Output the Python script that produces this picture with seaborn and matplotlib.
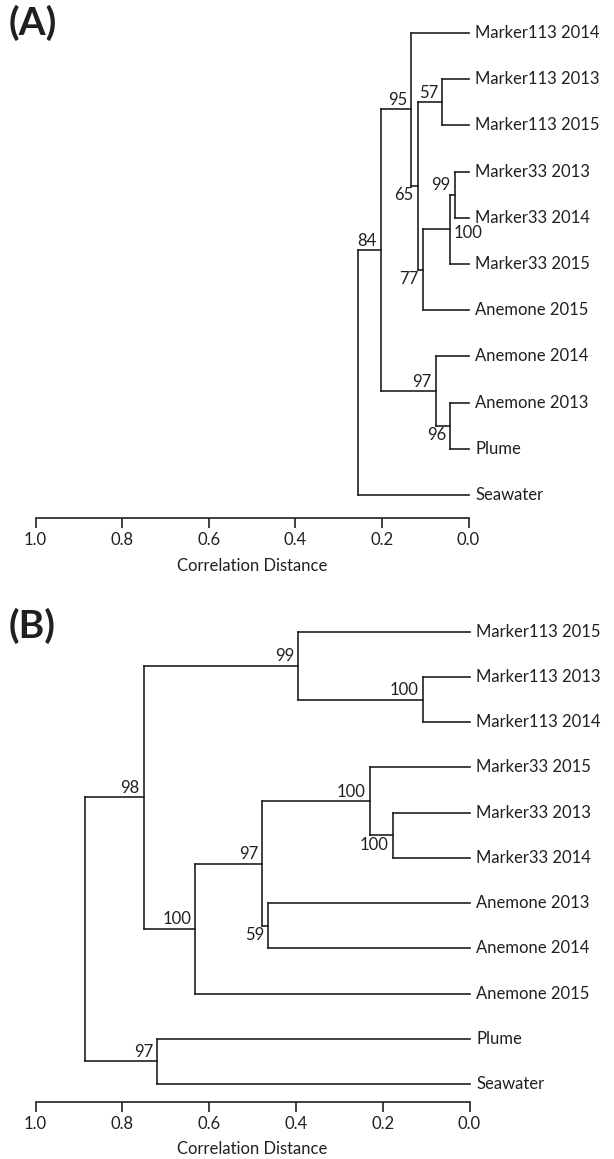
import numpy as np
import pandas as pd
import matplotlib
matplotlib.use("Agg")
import matplotlib.pyplot as plt
from matplotlib.ticker import FormatStrFormatter
import seaborn as sns

# ---- panel A: leaves top to bottom, internal nodes as merges (n0, n1, ...)
a_leaves = ["Marker113 2014", "Marker113 2013", "Marker113 2015",
            "Marker33 2013", "Marker33 2014", "Marker33 2015",
            "Anemone 2015", "Anemone 2014", "Anemone 2013", "Plume", "Seawater"]
a_left = ["Marker113 2013", "Marker33 2013", "n1", "n2", "n0",
          "Marker113 2014", "Anemone 2013", "Anemone 2014", "n5", "n8"]
a_right = ["Marker113 2015", "Marker33 2014", "Marker33 2015", "Anemone 2015", "n3",
           "n4", "Plume", "n6", "n7", "Seawater"]
a_height = [0.061, 0.032, 0.042, 0.105, 0.117, 0.132, 0.042, 0.075, 0.202, 0.256]
a_support = [57, 99, 100, 77, 65, 95, 96, 97, 84, None]
a_label_pos = ["above", "above", "right", "below", "below", "above", "below", "above", "above", None]

# ---- panel B
b_leaves = ["Marker113 2015", "Marker113 2013", "Marker113 2014",
            "Marker33 2015", "Marker33 2013", "Marker33 2014",
            "Anemone 2013", "Anemone 2014", "Anemone 2015", "Plume", "Seawater"]
b_left = ["Marker113 2013", "Marker113 2015", "Marker33 2013", "Marker33 2015",
          "Anemone 2013", "n3", "n5", "n1", "Plume", "n7"]
b_right = ["Marker113 2014", "n0", "Marker33 2014", "n2",
           "Anemone 2014", "n4", "Anemone 2015", "n6", "Seawater", "n8"]
b_height = [0.107, 0.395, 0.176, 0.230, 0.464, 0.477, 0.632, 0.751, 0.719, 0.886]
b_support = [100, 99, 100, 100, 59, 97, 100, 98, 97, None]
b_label_pos = ["above", "above", "below", "above", "below", "above", "above", "above", "above", None]

ticks = [0.0, 0.2, 0.4, 0.6, 0.8, 1.0]
INK = "#231f20"
LW = 1.2
FS = 12

sns.set_style("white")
plt.rcParams["font.family"] = ["Lato", "DejaVu Sans"]
plt.rcParams["text.color"] = INK
plt.rcParams["xtick.color"] = INK
plt.rcParams["axes.labelcolor"] = INK


def layout(leaves, left, right, height):
    pos = {name: (0.0, float(i)) for i, name in enumerate(leaves)}
    segs = []
    for k, (l, r, h) in enumerate(zip(left, right, height)):
        for child in (l, r):
            cx, cy = pos[child]
            segs.append(((cx, cy), (h, cy)))
        y0, y1 = pos[l][1], pos[r][1]
        segs.append(((h, y0), (h, y1)))
        pos[f"n{k}"] = (h, (y0 + y1) / 2)
    return pos, segs


def draw_tree(ax, leaves, left, right, height, support, label_pos, ybottom):
    pos, segs = layout(leaves, left, right, height)
    rows = []
    for i, (p0, p1) in enumerate(segs):
        rows.append({"x": p0[0], "y": p0[1], "seg": i})
        rows.append({"x": p1[0], "y": p1[1], "seg": i})
    df = pd.DataFrame(rows)
    sns.lineplot(data=df, x="x", y="y", units="seg", estimator=None, sort=False,
                 color=INK, lw=LW, ax=ax, clip_on=False,
                 solid_capstyle="projecting")

    for name in leaves:
        ax.annotate(name, (0.0, pos[name][1]), xytext=(5, 0), textcoords="offset points",
                    ha="left", va="center", fontsize=FS, annotation_clip=False)

    place = {"above": ((-3, 1.0), "right", "bottom"),
             "below": ((-3, -1.0), "right", "top"),
             "right": ((2.5, -3.0), "left", "center")}
    for k, (s, p) in enumerate(zip(support, label_pos)):
        if s is None:
            continue
        x, y = pos[f"n{k}"]
        off, ha, va = place[p]
        ax.annotate(str(s), (x, y), xytext=off, textcoords="offset points",
                    ha=ha, va=va, fontsize=FS, annotation_clip=False)

    ax.set_xlim(1.0, 0.0)
    ax.set_ylim(ybottom, -0.5)
    sns.despine(ax=ax, left=True, top=True, right=True)
    ax.set_yticks([])
    ax.set_ylabel("")
    ax.set_xticks(ticks)
    ax.xaxis.set_major_formatter(FormatStrFormatter("%.1f"))
    ax.tick_params(axis="x", direction="out", length=7, width=LW, pad=3,
                   labelsize=FS, color=INK, bottom=True)
    ax.spines["bottom"].set_linewidth(LW)
    ax.spines["bottom"].set_color(INK)
    ax.set_xlabel("Correlation Distance", fontsize=FS, labelpad=7)


W, H = 614, 1159
fig = plt.figure(figsize=(W / 100, H / 100), dpi=100)

# panel A axes (pixel geometry)
axA = fig.add_axes([35.5 / W, 1 - 518 / H, 433 / W, (518 - 9.9) / H])
draw_tree(axA, a_leaves, a_left, a_right, a_height, a_support, a_label_pos, 10.5)

axB = fig.add_axes([35.5 / W, 1 - 1101.7 / H, 434 / W, (1101.7 - 609.1) / H])
draw_tree(axB, b_leaves, b_left, b_right, b_height, b_support, b_label_pos, 10.39)

fig.text(9 / W, 1 - 5 / H, "(A)", fontsize=28, fontweight="bold", ha="left", va="top")
fig.text(9 / W, 1 - 608 / H, "(B)", fontsize=28, fontweight="bold", ha="left", va="top")

fig.savefig("out.png", dpi=100)
